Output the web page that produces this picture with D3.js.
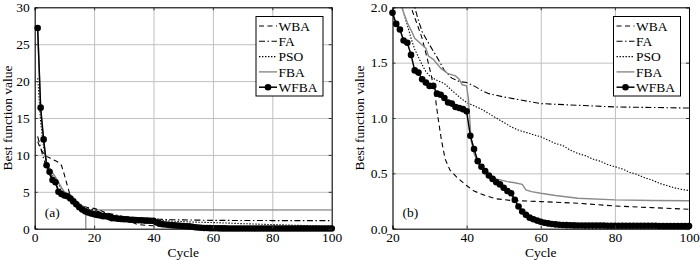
<!DOCTYPE html>
<html>
<head>
<meta charset="utf-8">
<script src="https://cdn.jsdelivr.net/npm/d3@7"></script>
<style>
  body { margin: 0; background: #fff; }
  svg { font-family: "Liberation Serif", "Times New Roman", serif; }
</style>
</head>
<body>
<div id="grafico"></div>
<script>
// series values, [cycle, best value]
const wba = [[1,11.8],[2,10.8],[3,10.2],[4,9.8],[5,9.6],[6,9.4],[7,9.2],[8,9.0],[9,8.6],[10,7.3],[11,5.8],[12,4.5],[13,3.8],[14,3.4],[15,3.2],[16,3.0],[18,2.85],[20,2.75],[22,2.5],[24,2.15],[25,2.0],[26.5,1.86],[28,1.72],[29.5,1.52],[30.5,1.38],[31.5,1.2],[32.3,1.0],[33.2,0.8],[34.2,0.63],[35.5,0.53],[37.5,0.46],[40,0.39],[42,0.34],[45,0.3],[48,0.27],[52,0.255],[60,0.245],[70,0.23],[80,0.205],[90,0.19],[100,0.176]];

const fa = [[1,12.5],[2,11.0],[3,9.5],[4,8.3],[5,7.3],[6,6.6],[7,6.0],[8,5.4],[9,5.0],[10,4.7],[12,4.2],[14,3.6],[16,3.1],[18,2.8],[20,2.5],[22,2.25],[24,2.1],[26,2.0],[27,1.88],[28,1.78],[30,1.66],[32,1.55],[34,1.43],[36,1.36],[38,1.33],[40,1.32],[42,1.29],[44,1.25],[46,1.22],[50,1.19],[55,1.16],[60,1.13],[70,1.115],[80,1.1],[90,1.095],[100,1.09]];

const pso = [[1,20.4],[2,14.5],[3,11.0],[4,9.0],[5,8.0],[6,7.2],[7,6.6],[8,6.0],[9,5.4],[10,5.0],[11,4.7],[12,4.3],[13,3.9],[14,3.5],[15,3.2],[16,2.9],[18,2.6],[20,2.3],[22,2.08],[23,1.95],[24,1.84],[25,1.72],[26,1.62],[27,1.55],[28,1.48],[29,1.42],[30,1.38],[32,1.34],[34,1.31],[36,1.25],[38,1.19],[40,1.14],[42,1.11],[44,1.08],[46,1.04],[48,1.0],[50,0.96],[52,0.92],[54,0.89],[56,0.87],[58,0.85],[60,0.83],[62,0.8],[64,0.77],[66,0.75],[68,0.71],[70,0.68],[72,0.66],[74,0.63],[76,0.61],[78,0.58],[80,0.56],[82,0.54],[84,0.51],[86,0.49],[88,0.46],[90,0.44],[92,0.41],[94,0.39],[96,0.37],[98,0.355],[100,0.345]];

const fba = [[1,27.0],[2,16.2],[3,11.8],[4,8.9],[5,8.2],[6,7.6],[7,7.0],[8,6.3],[9,5.6],[10,5.0],[11,4.8],[12,4.6],[13,4.2],[14,3.8],[15,3.4],[16,3.1],[17,2.9],[18,2.6],[19,2.4],[20,2.25],[21,2.1],[22.5,2.0],[24,1.86],[25.2,1.78],[26,1.72],[28,1.66],[29,1.63],[29.7,1.56],[31,1.53],[33,1.45],[35,1.4],[37,1.38],[38,1.35],[38.8,1.3],[40,1.29],[40.5,1.17],[41.2,0.8],[42,0.68],[43,0.6],[44.5,0.53],[46,0.49],[48,0.45],[51,0.425],[53,0.415],[55,0.4],[56,0.35],[57.5,0.335],[60,0.32],[64,0.3],[70,0.275],[80,0.26],[90,0.255],[100,0.252]];

// WFBA, one value per cycle 1..100
const wfba = [27.2,16.4,12.1,8.6,7.7,6.6,6.3,5.0,4.7,4.5,
              4.4,4.1,3.7,3.3,2.9,2.6,2.35,2.2,2.05,1.95,
              1.85,1.80,1.70,1.68,1.57,1.43,1.41,1.35,1.32,1.29,
              1.29,1.22,1.21,1.18,1.14,1.13,1.10,1.09,1.08,1.06,
              0.84,0.72,0.61,0.56,0.52,0.48,0.45,0.42,0.40,0.37,
              0.34,0.32,0.26,0.20,0.155,0.125,0.10,0.085,0.073,0.063,
              0.054,0.048,0.042,0.039,0.036,0.034,0.032,0.031,0.030,0.029,
              0.029,0.028,0.028,0.028,0.028,0.028,0.028,0.027,0.027,0.027,
              0.027,0.027,0.027,0.027,0.026,0.026,0.026,0.026,0.026,0.026,
              0.026,0.025,0.025,0.025,0.025,0.025,0.025,0.025,0.025,0.025];

const seriesNames = ["WBA", "FA", "PSO", "FBA", "WFBA"];
const xTicksA = [0, 20, 40, 60, 80, 100];
const yTicksA = [0, 5, 10, 15, 20, 25, 30];
const xTicksB = [20, 40, 60, 80, 100];
const yTicksB = [0, 0.5, 1.0, 1.5, 2.0];
const zoomBox = { x0: 17.2, x1: 102, y0: -0.35, y1: 2.54 };

const width = 700, height = 260;
const plotTop = 7.3, plotBottom = 228.7;
const fontSize = "13.5px";

const svg = d3.select("#grafico")
              .append("svg")
              .attr("width", width)
              .attr("height", height);

const styles = {
    WBA:  { stroke: "#000", dash: "5,3.5", w: 1.1 },
    FA:   { stroke: "#000", dash: "6,2.5,1.5,2.5", w: 1.1 },
    PSO:  { stroke: "#000", dash: "1.4,1.6", w: 1.1 },
    FBA:  { stroke: "#8a8a8a", dash: null, w: 1.4 },
    WFBA: { stroke: "#000", dash: null, w: 1.5 }
};

const wfbaPts = wfba.map((v, i) => [i + 1, v]);
const lineData = { WBA: wba, FA: fa, PSO: pso, FBA: fba };

function panel(id, x0, x1, xDom, yDom, xTicks, yTicks, yFmt, label, legendX, minCycle, yLabelOff) {
    const x = d3.scaleLinear().domain(xDom).range([x0, x1]);
    const y = d3.scaleLinear().domain(yDom).range([plotBottom, plotTop]);
    const g = svg.append("g");

    g.append("clipPath").attr("id", id)
     .append("rect")
     .attr("x", x0).attr("y", plotTop)
     .attr("width", x1 - x0).attr("height", plotBottom - plotTop);

    // grid
    g.append("g")
     .attr("transform", `translate(0, ${plotBottom})`)
     .call(d3.axisBottom(x).tickValues(xTicks).tickSize(-(plotBottom - plotTop)).tickFormat(""))
     .call(a => a.select(".domain").remove())
     .selectAll("line").attr("stroke", "#c0c0c0").attr("stroke-width", 1);
    g.append("g")
     .attr("transform", `translate(${x0}, 0)`)
     .call(d3.axisLeft(y).tickValues(yTicks).tickSize(-(x1 - x0)).tickFormat(""))
     .call(a => a.select(".domain").remove())
     .selectAll("line").attr("stroke", "#c0c0c0").attr("stroke-width", 1);

    const plot = g.append("g").attr("clip-path", `url(#${id})`);

    if (label === "(a)") {
        plot.append("rect")
            .attr("x", x(zoomBox.x0)).attr("y", y(zoomBox.y1))
            .attr("width", x(zoomBox.x1) - x(zoomBox.x0))
            .attr("height", y(zoomBox.y0) - y(zoomBox.y1))
            .attr("fill", "none").attr("stroke", "#8c8c8c").attr("stroke-width", 1.3);
    }

    const line = d3.line().x(d => x(d[0])).y(d => y(d[1]));

    ["WBA", "FA", "PSO", "FBA"].forEach(name => {
        const s = styles[name];
        plot.append("path")
            .datum(lineData[name])
            .attr("fill", "none")
            .attr("stroke", s.stroke)
            .attr("stroke-width", s.w)
            .attr("stroke-dasharray", s.dash)
            .attr("d", line);
    });

    const wpts = wfbaPts.filter(d => d[0] >= minCycle);
    plot.append("path")
        .datum(wpts)
        .attr("fill", "none")
        .attr("stroke", "#000")
        .attr("stroke-width", 1.5)
        .attr("d", line);

    g.append("g")
     .selectAll("circle")
     .data(wpts.filter(d => d[1] <= yDom[1]))
     .join("circle")
     .attr("cx", d => x(d[0]))
     .attr("cy", d => y(d[1]))
     .attr("r", 3.3)
     .attr("fill", "#000");

    // axes with inward ticks
    const axes = [
        g.append("g").attr("transform", `translate(0, ${plotBottom})`)
         .call(d3.axisBottom(x).tickValues(xTicks).tickSize(-3).tickPadding(4)),
        g.append("g").attr("transform", `translate(0, ${plotTop})`)
         .call(d3.axisTop(x).tickValues(xTicks).tickSize(-3).tickFormat("")),
        g.append("g").attr("transform", `translate(${x0}, 0)`)
         .call(d3.axisLeft(y).tickValues(yTicks).tickSize(-3).tickPadding(5).tickFormat(yFmt)),
        g.append("g").attr("transform", `translate(${x1}, 0)`)
         .call(d3.axisRight(y).tickValues(yTicks).tickSize(-3).tickFormat(""))
    ];
    axes.forEach(a => {
        a.select(".domain").attr("stroke", "#000");
        a.selectAll("line").attr("stroke", "#333");
        a.selectAll("text").attr("font-size", fontSize).attr("fill", "#000")
         .attr("font-family", "Liberation Serif, serif");
    });

    g.append("text")
     .attr("x", (x0 + x1) / 2)
     .attr("y", 256.5)
     .attr("font-size", fontSize)
     .style("text-anchor", "middle")
     .text("Cycle");

    g.append("text")
     .attr("transform", `translate(${x0 - yLabelOff}, ${(plotTop + plotBottom) / 2}) rotate(-90)`)
     .attr("font-size", fontSize)
     .style("text-anchor", "middle")
     .text("Best function value");

    g.append("text")
     .attr("x", x0 + 10)
     .attr("y", 216.5)
     .attr("font-size", fontSize)
     .text(label);

    // legend
    const lg = g.append("g").attr("transform", `translate(${legendX}, 16.5)`);
    lg.append("rect")
      .attr("width", 67).attr("height", 79.5)
      .attr("fill", "#fff").attr("stroke", "#000").attr("stroke-width", 1);
    seriesNames.forEach((name, i) => {
        const s = styles[name];
        const yy = 9.5 + i * 15.3;
        lg.append("line")
          .attr("x1", 3).attr("x2", 21).attr("y1", yy).attr("y2", yy)
          .attr("stroke", s.stroke).attr("stroke-width", s.w)
          .attr("stroke-dasharray", s.dash);
        if (name === "WFBA") {
            lg.append("circle").attr("cx", 12).attr("cy", yy).attr("r", 3.3).attr("fill", "#000");
        }
        lg.append("text")
          .attr("x", 22.5).attr("y", yy + 4.7)
          .attr("font-size", fontSize)
          .text(name);
    });
}

panel("clipA", 34.7, 331.7, [0, 100], [0, 30], xTicksA, yTicksA, d3.format("d"), "(a)", 256, 1, 22.5);
panel("clipB", 392.5, 689, [20, 100], [0, 2], xTicksB, yTicksB, d3.format(".1f"), "(b)", 613.5, 20, 29);
</script>
</body>
</html>
